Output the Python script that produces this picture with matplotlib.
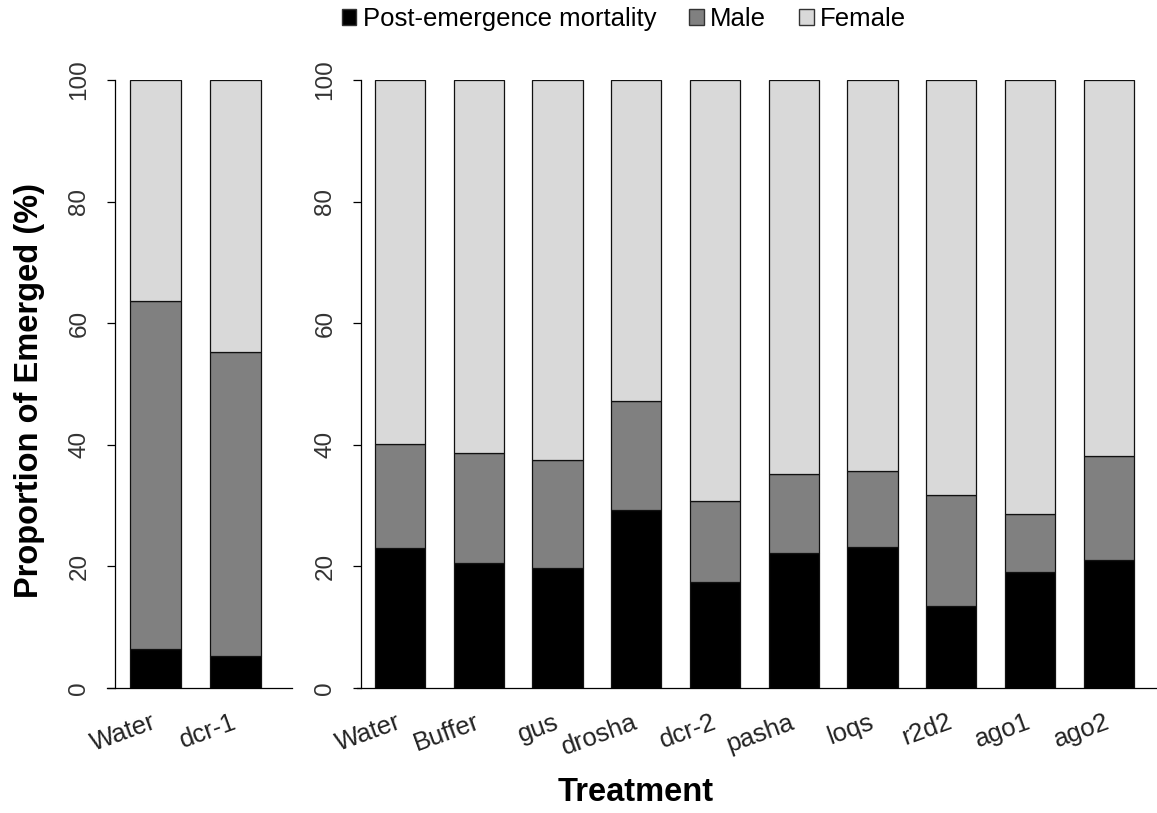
import numpy as np
import matplotlib
matplotlib.use('Agg')
import matplotlib.pyplot as plt
from matplotlib.patches import Patch

plt.rcParams['font.family'] = ['Liberation Sans', 'DejaVu Sans']

# left panel
left_labels = ['Water', 'dcr-1']
left_mort = [6.4, 5.3]
left_male_top = [63.6, 55.2]

# right panel
right_labels = ['Water', 'Buffer', 'gus', 'drosha', 'dcr-2',
                'pasha', 'loqs', 'r2d2', 'ago1', 'ago2']
right_mort = [23.0, 20.6, 19.8, 29.3, 17.5, 22.2, 23.2, 13.5, 19.0, 21.1]
right_male_top = [40.2, 38.6, 37.5, 47.2, 30.8, 35.2, 35.7, 31.7, 28.6, 38.1]

series_names = ['Post-emergence mortality', 'Male', 'Female']
colors = ['#000000', '#808080', '#d9d9d9']

W, H = 1157, 813
fig = plt.figure(figsize=(W / 100, H / 100), dpi=100)

bottom_px, top_px = 688, 80
ax_b = (H - bottom_px) / H
ax_h = (bottom_px - top_px) / H

ax1 = fig.add_axes([107 / W, ax_b, 185 / W, ax_h])
ax2 = fig.add_axes([357 / W, ax_b, 800 / W, ax_h])


def stacked(ax, labels, mort, male_top, xlim, spine_x):
    x = np.arange(len(labels))
    mort = np.array(mort)
    male = np.array(male_top) - mort
    female = 100 - np.array(male_top)
    bw = 0.64
    ax.bar(x, mort, bw, color=colors[0], edgecolor='#111111', linewidth=0.9)
    ax.bar(x, male, bw, bottom=mort, color=colors[1], edgecolor='#111111', linewidth=0.9)
    ax.bar(x, female, bw, bottom=mort + male, color=colors[2], edgecolor='#111111',
           linewidth=0.9)
    ax.set_xlim(*xlim)
    ax.set_ylim(0, 100)
    for s in ['top', 'right']:
        ax.spines[s].set_visible(False)
    ax.spines['left'].set_position(('data', spine_x))
    ax.spines['left'].set_bounds(0, 100)
    ax.spines['left'].set_linewidth(0.9)
    ax.spines['bottom'].set_linewidth(0.9)
    ax.set_yticks(np.arange(0, 101, 20))
    ax.tick_params(axis='y', length=5.8, width=0.9, pad=12, labelsize=17.5,
                   labelcolor='#333333')
    for t in ax.get_yticklabels():
        t.set_rotation(90)
        t.set_va('center')
    ax.set_xticks(x)
    ax.set_xticklabels(labels, rotation=20, ha='right', va='center',
                       rotation_mode='anchor', fontsize=18.5, color='#222222')
    ax.tick_params(axis='x', length=0, pad=24)


stacked(ax1, left_labels, left_mort, left_male_top, (-0.606, 1.706), -0.506)
stacked(ax2, right_labels, right_mort, right_male_top, (-0.546, 9.613), -0.495)

fig.text(30 / W, 1 - 390 / H, 'Proportion of Emerged (%)', rotation=90,
         ha='center', va='center', fontsize=23.5, fontweight='bold')
fig.text(636 / W, 1 - 792 / H, 'Treatment', ha='center', va='center',
         fontsize=23.5, fontweight='bold')

handles = [Patch(facecolor=c, edgecolor='#333333', linewidth=1.0) for c in colors]
fig.legend(handles, series_names, loc='center', bbox_to_anchor=(624 / W, 1 - 19 / H),
           ncol=3, frameon=False, fontsize=18.5, handlelength=0.55, handleheight=0.55,
           handletextpad=0.25, columnspacing=1.3, borderaxespad=0, borderpad=0)

fig.savefig('out.png', dpi=100)
